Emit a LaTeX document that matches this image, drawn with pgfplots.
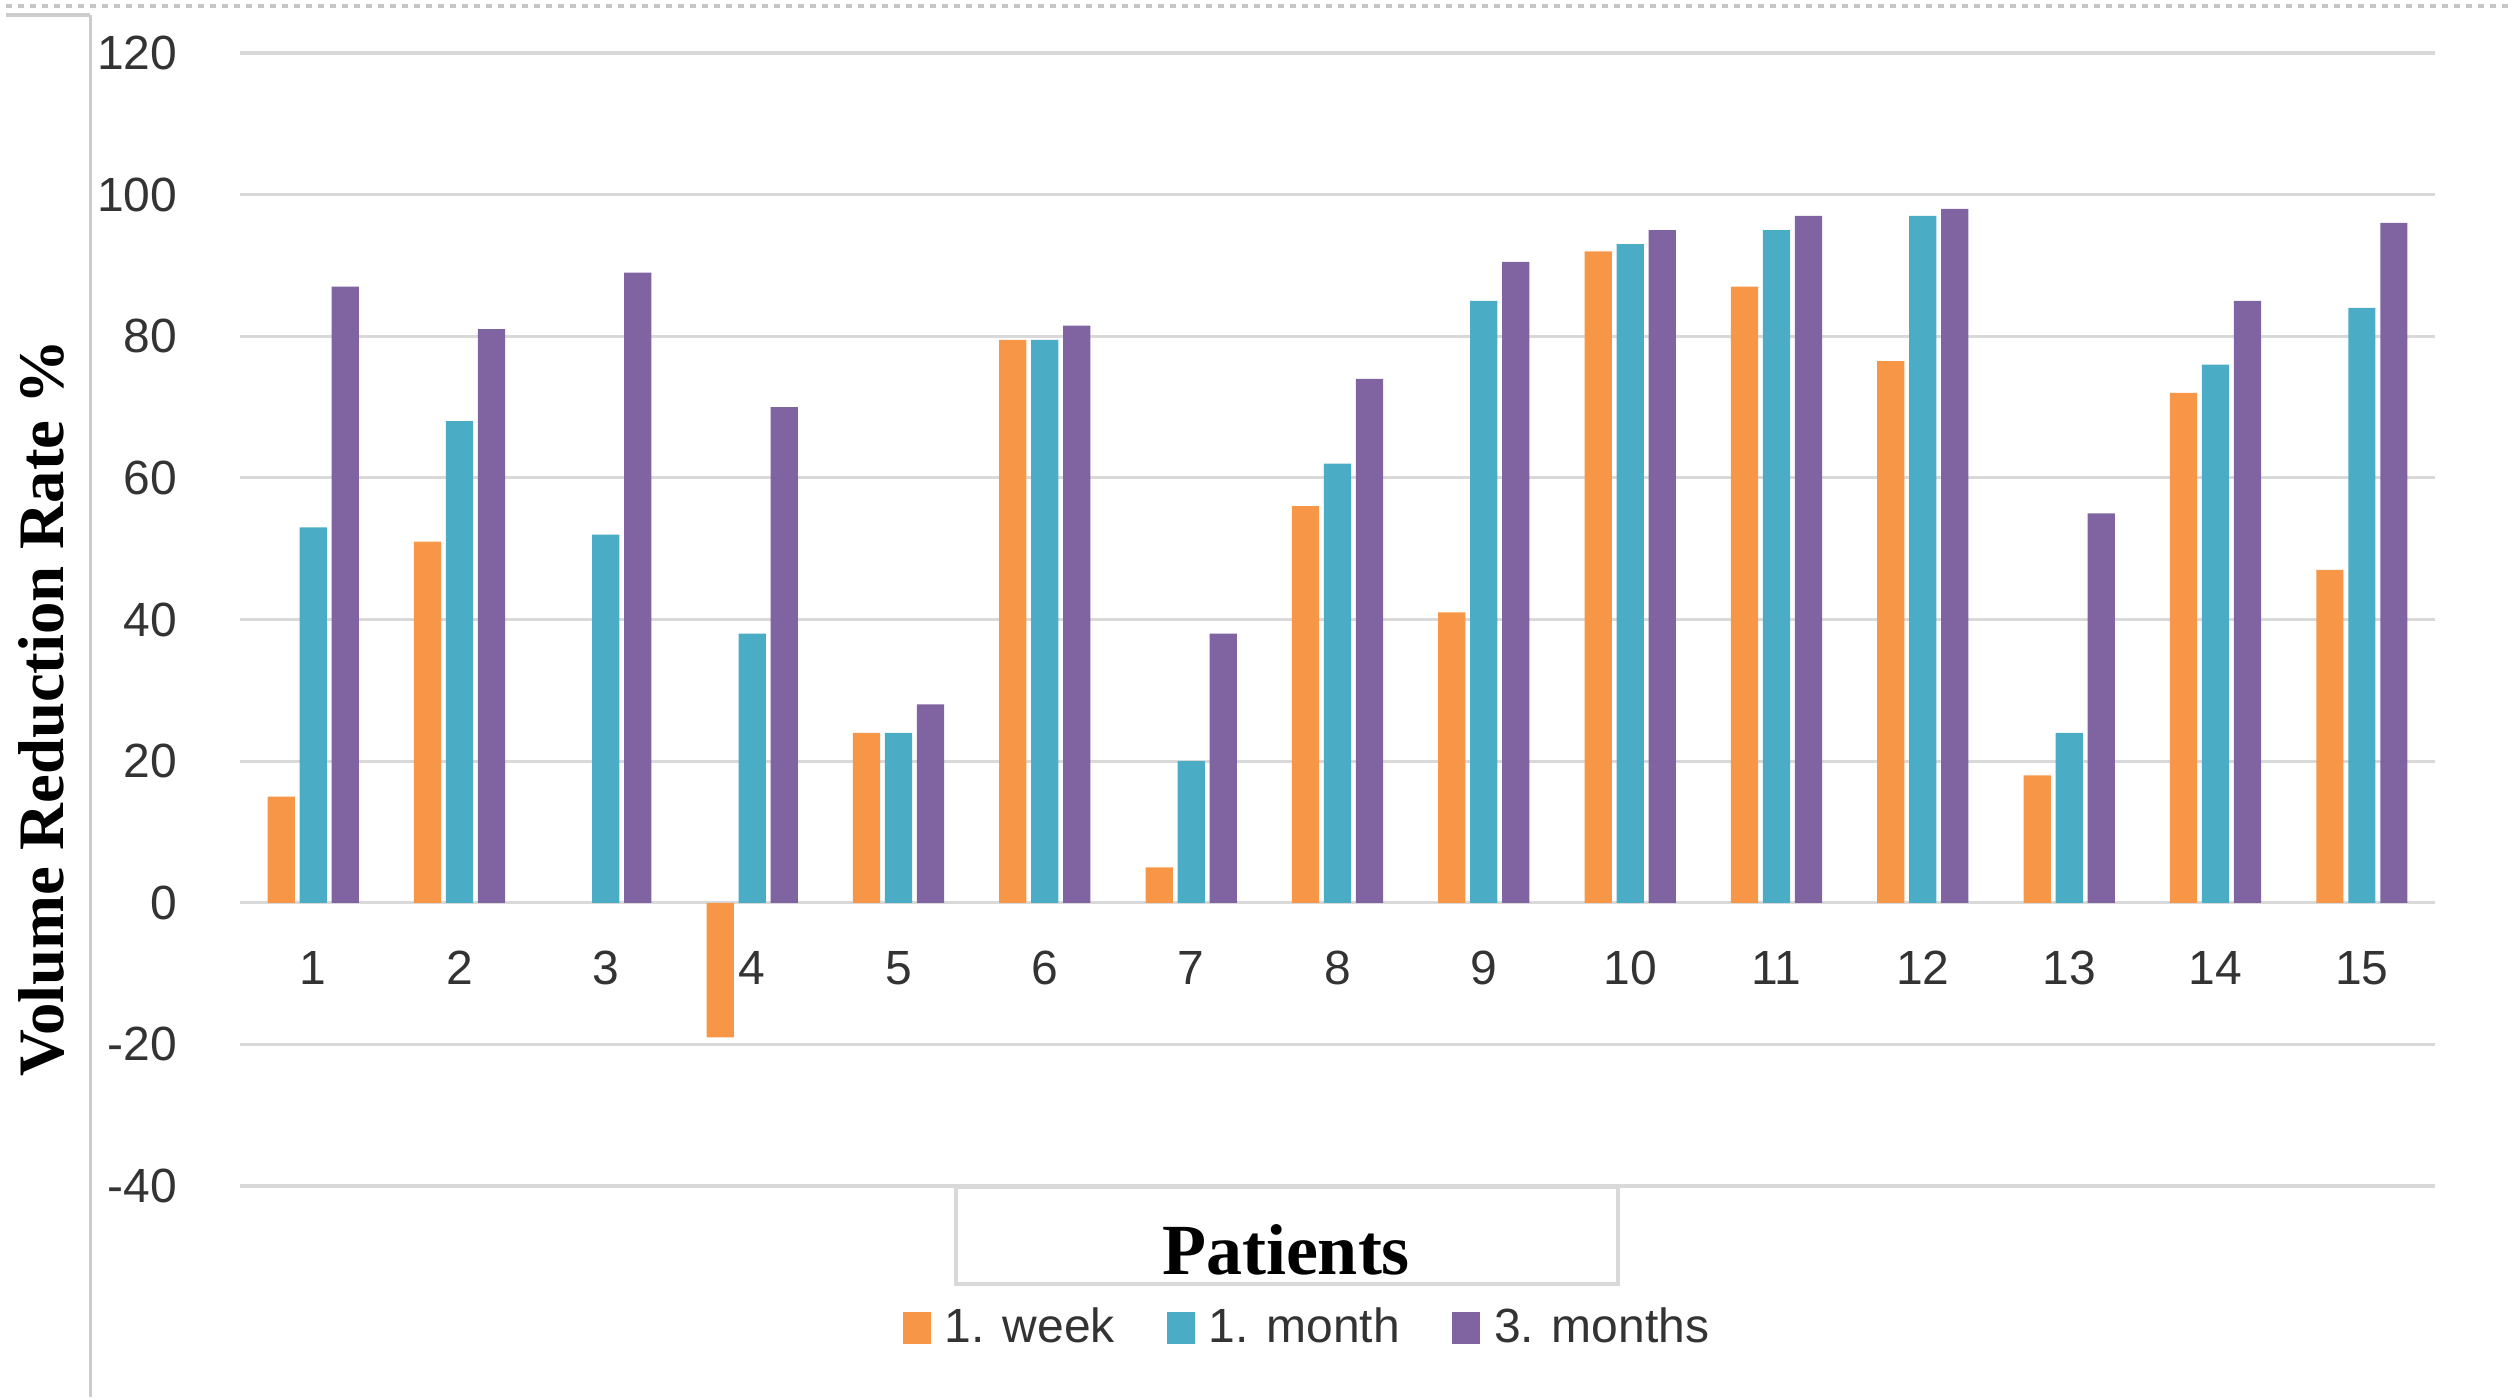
\documentclass[border=0pt]{standalone}
\usepackage{fontspec}
\setmainfont{Liberation Sans}
\newfontfamily\titlefont{Liberation Serif}
\usepackage{pgfplots}
\usepackage{pgfplotstable}
\pgfplotsset{compat=1.18}

\definecolor{cweek}{RGB}{247,150,70}
\definecolor{cmonth}{RGB}{75,172,198}
\definecolor{cthree}{RGB}{128,100,162}
\definecolor{gridgray}{RGB}{217,217,217}

% volume reduction rate (%) per patient
\pgfplotstableread{
p  week  month  three
1  15    53     87
2  51    68     81
3  nan   52     89
4  -19   38     70
5  24    24     28
6  79.5  79.5   81.5
7  5     20     38
8  56    62     74
9  41    85     90.5
10 92    93     95
11 87    95     97
12 76.5  97     98
13 18    24     55
14 72    76     85
15 47    84     96
}\vrr

\begin{document}
\begin{tikzpicture}
\useasboundingbox (0,0) rectangle (627pt,349.25pt);
% frame remains from the page
\draw[gray!45, line width=1pt, dash pattern=on 1.5pt off 1.5pt] (1.5pt,347.75pt) -- (627pt,347.75pt);
\draw[gray!40, line width=0.8pt] (1.5pt,345.5pt) -- (22.6pt,345.5pt);
\draw[gray!40, line width=0.8pt] (22.6pt,345.5pt) -- (22.6pt,0pt);

\begin{axis}[
  at={(60pt,52.75pt)}, anchor=south west,
  width=548.75pt, height=283.25pt, scale only axis,
  ybar=1.2pt, bar width=6.8pt,
  ymin=-40, ymax=120, ytick={-40,-20,...,120},
  xmin=0.5, xmax=15.5, xtick={1,...,15},
  axis x line=middle, axis y line=left,
  x axis line style={-, draw=gridgray, line width=0.8pt},
  y axis line style={draw=none},
  tick style={draw=none},
  ymajorgrids, grid style={gridgray, line width=0.8pt},
  /pgf/number format/assume math mode=true,
  tick label style={font=\fontsize{12}{14}\selectfont, text=black!80},
  yticklabel style={xshift=-10pt},
  xticklabel style={yshift=-6.5pt},
  legend columns=3,
  legend style={at={(0.4875,-0.125)}, anchor=center, draw=none, fill=none,
    font=\fontsize{12}{14}\selectfont, text=black!80,
    /tikz/every odd column/.append style={column sep=1.5pt},
    /tikz/every even column/.append style={column sep=11pt}},
  legend image code/.code={\fill[#1] (0pt,-4pt) rectangle (7pt,4pt);},
]
\addplot[fill=cweek, draw=none] table[x=p, y=week] {\vrr};
\addplot[fill=cmonth, draw=none] table[x=p, y=month] {\vrr};
\addplot[fill=cthree, draw=none] table[x=p, y=three] {\vrr};
\legend{1. week, 1. month, 3. months}
\end{axis}

\draw[gridgray, line width=0.8pt] (239pt,28.25pt) rectangle (404.5pt,52.5pt);
\node[font=\titlefont\bfseries\fontsize{18}{21}\selectfont] at (321.5pt,36.75pt) {Patients};
\node[rotate=90, font=\titlefont\bfseries\fontsize{16.2}{19}\selectfont] at (10.3pt,172.25pt) {Volume Reduction Rate \%};
\end{tikzpicture}
\end{document}
